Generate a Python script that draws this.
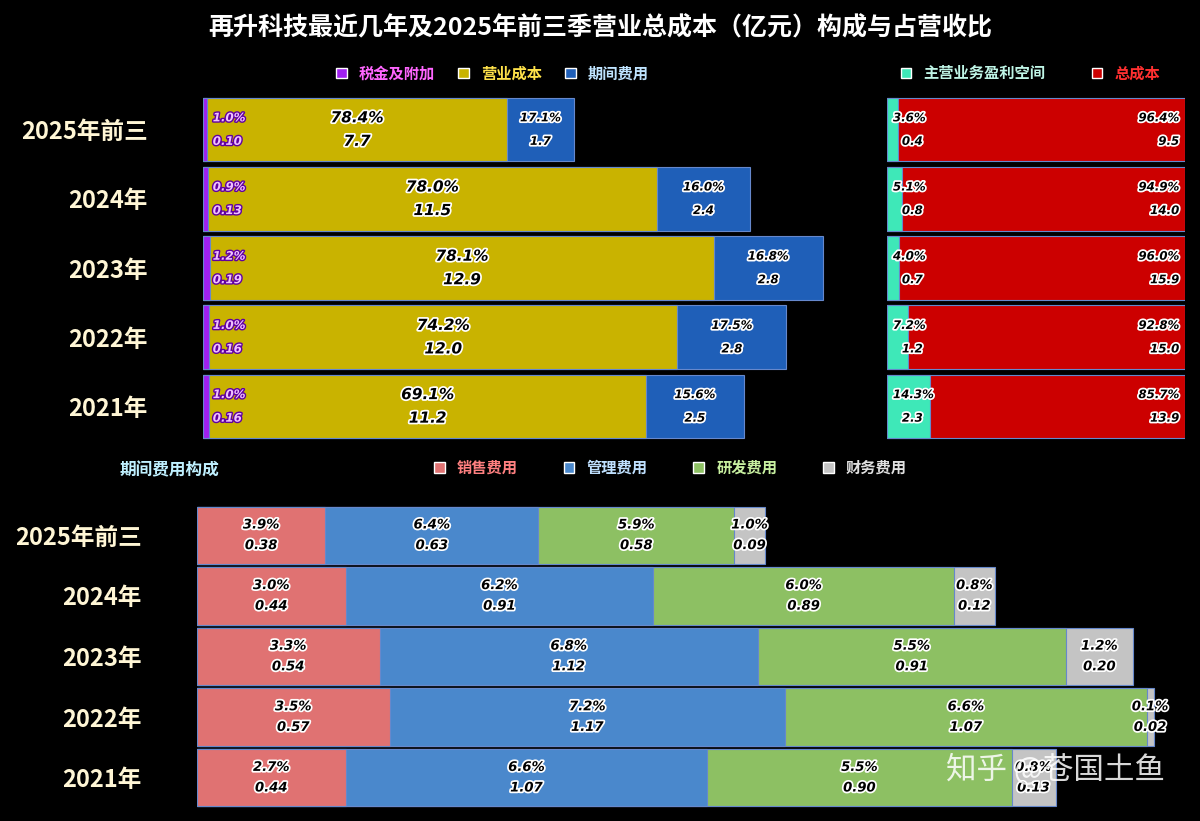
import numpy as np, pandas as pd, seaborn as sns, matplotlib
matplotlib.use("Agg")
import matplotlib.pyplot as plt
import matplotlib.patheffects as pe
from matplotlib.patches import Patch

sns.set_style("dark")
plt.rcParams['font.family'] = ['Noto Sans CJK SC', 'DejaVu Sans']

years = ["2025年前三", "2024年", "2023年", "2022年", "2021年"]
tax_v = [0.10, 0.13, 0.19, 0.16, 0.16]
cost_v = [7.7, 11.5, 12.9, 12.0, 11.2]
period_v = [1.7, 2.4, 2.8, 2.8, 2.5]
tax_p = ["1.0%", "0.9%", "1.2%", "1.0%", "1.0%"]
cost_p = ["78.4%", "78.0%", "78.1%", "74.2%", "69.1%"]
period_p = ["17.1%", "16.0%", "16.8%", "17.5%", "15.6%"]
profit_pct = [3.6, 5.1, 4.0, 7.2, 14.3]
profit_v = [0.4, 0.8, 0.7, 1.2, 2.3]
total_pct = [96.4, 94.9, 96.0, 92.8, 85.7]
total_v = [9.5, 14.0, 15.9, 15.0, 13.9]
sales_v = [0.38, 0.44, 0.54, 0.57, 0.44]
mgmt_v = [0.63, 0.91, 1.12, 1.17, 1.07]
rd_v = [0.58, 0.89, 0.91, 1.07, 0.90]
fin_v = [0.09, 0.12, 0.20, 0.02, 0.13]
sales_p = ["3.9%", "3.0%", "3.3%", "3.5%", "2.7%"]
mgmt_p = ["6.4%", "6.2%", "6.8%", "7.2%", "6.6%"]
rd_p = ["5.9%", "6.0%", "5.5%", "6.6%", "5.5%"]
fin_p = ["1.0%", "0.8%", "1.2%", "0.1%", "0.8%"]

BG = "black"
NUM = ['DejaVu Sans']
fig = plt.figure(figsize=(12, 8.21), dpi=100, facecolor=BG)
H = 821
def rect(l, t, r, b):
    return [l/1200, 1-b/H, (r-l)/1200, (b-t)/H]

ax1 = fig.add_axes(rect(203, 95, 203+17*39, 441))
ax2 = fig.add_axes(rect(887, 95, 1185, 441))
ax3 = fig.add_axes(rect(197, 505, 197+3.0*338, 808))

glow = [pe.withStroke(linewidth=2.5, foreground="white")]
def label(ax, x, i, top, bot, size=10):
    for dy, t in [(-0.17, top), (0.17, bot)]:
        ax.text(x, i+dy, t, ha="center", va="center", fontsize=size, style="italic",
                fontweight="bold", color="black", path_effects=glow, family=NUM)

def stack(ax, layers, colors, width):
    cum = np.cumsum(np.array(layers), axis=0)
    for k in range(len(layers)-1, -1, -1):
        df = pd.DataFrame({"y": years, "x": cum[k]})
        sns.barplot(data=df, x="x", y="y", orient="h", color=colors[k], width=width,
                    ax=ax, edgecolor="#6688cc", linewidth=0.8, saturation=1)
    return cum

def style(ax, xmax, show_y=True):
    ax.set_facecolor(BG)
    ax.set_xlim(0, xmax)
    ax.set_xlabel(""); ax.set_ylabel("")
    ax.set_xticks([])
    for s in ax.spines.values(): s.set_visible(False)
    ax.grid(False)
    if show_y:
        ax.tick_params(axis="y", length=0, labelsize=17, labelcolor="#fff6d5", pad=40)
        for t in ax.get_yticklabels(): t.set_fontweight("bold")
    else:
        ax.set_yticks([])

c1 = ["#a020f0", "#c9b300", "#1f5fb8"]
cum = stack(ax1, [tax_v, cost_v, period_v], c1, 0.92)
style(ax1, 17)
ppe = [pe.withStroke(linewidth=2, foreground="#6000a0")]
for i in range(5):
    ax1.text(0.25, i-0.17, tax_p[i], ha="left", va="center", fontsize=8.5, style="italic",
             fontweight="bold", color="#f0c0ff", path_effects=ppe, family=NUM)
    ax1.text(0.25, i+0.17, f"{tax_v[i]:.2f}", ha="left", va="center", fontsize=8.5, style="italic",
             fontweight="bold", color="#f0c0ff", path_effects=ppe, family=NUM)
    label(ax1, cum[0][i] + cost_v[i]/2, i, cost_p[i], f"{cost_v[i]:.1f}", 11)
    label(ax1, cum[1][i] + period_v[i]/2, i, period_p[i], f"{period_v[i]:.1f}", 8.5)
leg = ax1.legend(handles=[Patch(fc=c, ec="white") for c in c1], labels=["税金及附加", "营业成本", "期间费用"],
           loc="lower left", bbox_to_anchor=(0.18, 1.0), ncol=3, frameon=False, fontsize=11,
           handlelength=0.7, handleheight=0.7, columnspacing=1.5, labelcolor=["#ff66ff", "#ffe24a", "#bfe4ff"],
           prop={"weight": "bold", "size": 11})

c2 = ["#3ee8b8", "#cc0000"]
stack(ax2, [profit_pct, total_pct], c2, 0.92)
style(ax2, 100, False)
for i in range(5):
    for x, t, ha in [(2, f"{profit_pct[i]:.1f}%", "left"), (98, f"{total_pct[i]:.1f}%", "right"),
                     (5, f"{profit_v[i]:.1f}", "left"), (98, f"{total_v[i]:.1f}", "right")]:
        dy = -0.17 if "%" in t else 0.17
        ax2.text(x, i+dy, t, ha=ha, va="center", fontsize=8.5, style="italic", fontweight="bold",
                 color="black", path_effects=glow, family=NUM)
ax2.legend(handles=[Patch(fc=c, ec="white") for c in c2], labels=["主营业务盈利空间", "总成本"],
           loc="lower left", bbox_to_anchor=(0.0, 1.0), ncol=2, frameon=False,
           handlelength=0.7, handleheight=0.7, columnspacing=3, labelcolor=["#bff5e6", "#ff3030"],
           prop={"weight": "bold", "size": 11})

c3 = ["#e07272", "#4a88cc", "#8dc063", "#c4c4c4"]
layers3 = [sales_v, mgmt_v, rd_v, fin_v]
pct3 = [sales_p, mgmt_p, rd_p, fin_p]
cum3 = stack(ax3, layers3, c3, 0.95)
style(ax3, 3.0)
for i in range(5):
    for k in range(4):
        start = cum3[k-1][i] if k else 0
        label(ax3, start + layers3[k][i]/2, i, pct3[k][i], f"{layers3[k][i]:.2f}", 9.5)
ax3.legend(handles=[Patch(fc=c, ec="white") for c in c3], labels=["销售费用", "管理费用", "研发费用", "财务费用"],
           loc="lower left", bbox_to_anchor=(0.22, 1.05), ncol=4, frameon=False,
           handlelength=0.7, handleheight=0.7, columnspacing=3,
           labelcolor=["#ff8080", "#bfe0ff", "#c8f0a0", "#e0e0e0"], prop={"weight": "bold", "size": 11})

fig.text(120/1200, 1-470/H, "期间费用构成", ha="left", va="center", fontsize=12, color="#bff0ff", fontweight="bold")
fig.text(0.5, 1-28/H, "再升科技最近几年及2025年前三季营业总成本（亿元）构成与占营收比", ha="center",
         va="center", fontsize=18, color="white", fontweight="bold")
fig.text(1165/1200, 1-770/H, "知乎 @苍国土鱼", ha="right", va="center", fontsize=22, color="white", alpha=0.85)

fig.savefig("out.png", dpi=100, facecolor=BG)
